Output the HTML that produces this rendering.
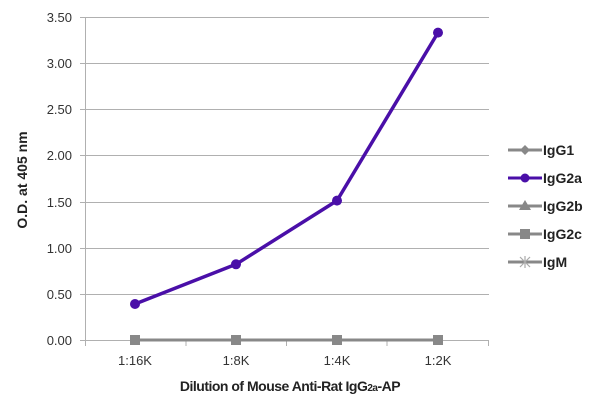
<!DOCTYPE html>
<html><head><style>body{margin:0;background:#fff}</style></head><body>
<svg width="600" height="411" xmlns="http://www.w3.org/2000/svg" font-family="Liberation Sans, sans-serif">
<g stroke="#b0b0b0" stroke-width="1">
<line x1="80" y1="17.5" x2="489" y2="17.5"/>
<line x1="80" y1="63.5" x2="489" y2="63.5"/>
<line x1="80" y1="109.5" x2="489" y2="109.5"/>
<line x1="80" y1="155.5" x2="489" y2="155.5"/>
<line x1="80" y1="202.5" x2="489" y2="202.5"/>
<line x1="80" y1="248.5" x2="489" y2="248.5"/>
<line x1="80" y1="294.5" x2="489" y2="294.5"/>
<line x1="80" y1="340.5" x2="489" y2="340.5"/>
<line x1="85.5" y1="17" x2="85.5" y2="346"/>
<line x1="186" y1="340" x2="186" y2="346"/>
<line x1="286.5" y1="340" x2="286.5" y2="346"/>
<line x1="387" y1="340" x2="387" y2="346"/>
<line x1="488.5" y1="340" x2="488.5" y2="346"/>
</g>
<g font-size="13" fill="#333" text-anchor="end">
<text x="72" y="22">3.50</text><text x="72" y="68">3.00</text><text x="72" y="114">2.50</text>
<text x="72" y="160">2.00</text><text x="72" y="207">1.50</text><text x="72" y="253">1.00</text>
<text x="72" y="299">0.50</text><text x="72" y="345">0.00</text>
</g>
<g font-size="13" fill="#333" text-anchor="middle">
<text x="135" y="365">1:16K</text><text x="236" y="365">1:8K</text><text x="337" y="365">1:4K</text><text x="438" y="365">1:2K</text>
</g>
<text x="290" y="391" font-size="14" font-weight="bold" text-anchor="middle" fill="#222" letter-spacing="-0.5">Dilution of Mouse Anti-Rat IgG<tspan font-size="10">2a</tspan>-AP</text>
<text transform="translate(27,180) rotate(-90)" font-size="14" font-weight="bold" text-anchor="middle" fill="#222">O.D. at 405 nm</text>
<line x1="135" y1="340" x2="438" y2="340" stroke="#888" stroke-width="3"/>
<g fill="#888"><rect x="130" y="335" width="10" height="10"/><rect x="231" y="335" width="10" height="10"/><rect x="332" y="335" width="10" height="10"/><rect x="433" y="335" width="10" height="10"/></g>
<polyline points="135,304 236,264.3 337,200.6 438,32.6" fill="none" stroke="#4a0fa8" stroke-width="3.5" stroke-linejoin="round"/>
<g fill="#4a0fa8"><circle cx="135" cy="304" r="5"/><circle cx="236" cy="264.3" r="5"/><circle cx="337" cy="200.6" r="5"/><circle cx="438" cy="32.6" r="5"/></g>
<g stroke="#888" stroke-width="3">
<line x1="508" y1="150" x2="542" y2="150"/><line x1="508" y1="206" x2="542" y2="206"/>
<line x1="508" y1="234" x2="542" y2="234"/><line x1="508" y1="262" x2="542" y2="262"/>
</g>
<line x1="508" y1="178" x2="542" y2="178" stroke="#4a0fa8" stroke-width="3"/>
<circle cx="525" cy="178" r="4.5" fill="#4a0fa8"/>
<polygon points="525,145 530,150 525,155 520,150" fill="#888"/>
<polygon points="525,200 531,210 519,210" fill="#888"/>
<rect x="520" y="229" width="10" height="10" fill="#888"/>
<g stroke="#aaa" stroke-width="1.2"><line x1="520" y1="257" x2="530" y2="267"/><line x1="530" y1="257" x2="520" y2="267"/><line x1="525" y1="256" x2="525" y2="268"/></g>
<g font-size="14" font-weight="bold" fill="#222">
<text x="543" y="155">IgG1</text><text x="543" y="183">IgG2a</text><text x="543" y="211">IgG2b</text><text x="543" y="239">IgG2c</text><text x="543" y="267">IgM</text>
</g>
</svg>
</body></html>
